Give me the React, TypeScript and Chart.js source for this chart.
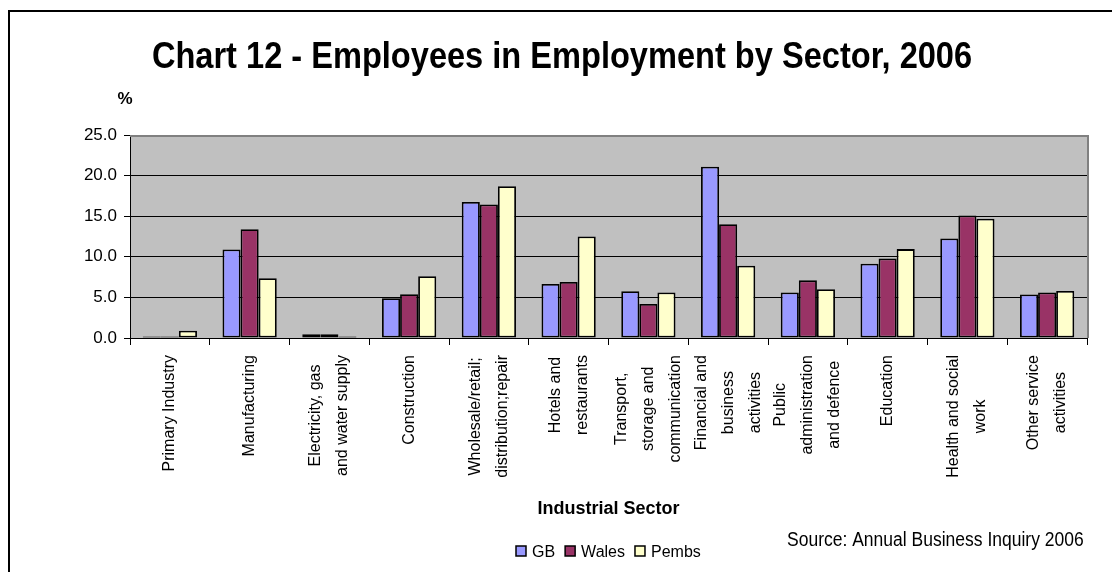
import React, { useEffect, useRef } from 'react';
import { Chart, registerables } from 'chart.js';

Chart.register(...registerables);

// ---------- data ----------
const categories: string[][] = [
  ['Primary Industry'],
  ['Manufacturing'],
  ['Electricity, gas', 'and water supply'],
  ['Construction'],
  ['Wholesale/retail;', 'distribution;repair'],
  ['Hotels and', 'restaurants'],
  ['Transport,', 'storage and', 'communication'],
  ['Financial and', 'business', 'activities'],
  ['Public', 'administration', 'and defence'],
  ['Education'],
  ['Health and social', 'work'],
  ['Other service', 'activities'],
];

const gbValues = [0.2, 10.9, 0.45, 4.9, 16.75, 6.65, 5.75, 21.1, 5.6, 9.15, 12.25, 5.35];
const walesValues = [0.2, 13.4, 0.45, 5.4, 16.45, 6.9, 4.2, 14.0, 7.1, 9.8, 15.1, 5.6];
const pembsValues = [0.9, 7.35, 0.2, 7.6, 18.7, 12.5, 5.6, 8.9, 6.0, 10.95, 14.7, 5.8];

const seriesNames = ['GB', 'Wales', 'Pembs'];
const seriesColors = ['#9999FF', '#993366', '#FFFFCC'];

const yMin = 0;
const yMax = 25;
const yStep = 5;

const chartTitle = 'Chart 12 - Employees in Employment by Sector, 2006';
const yUnit = '%';
const xAxisTitle = 'Industrial Sector';
const sourceNote = 'Source: Annual Business Inquiry 2006';

// ---------- styling ----------
const SANS = '"Liberation Sans", Arial, sans-serif';

// draw text squeezed horizontally to a condensed width (emulates a narrow face)
function drawCondensed(ctx: any, text: string, x: number, y: number, font: string, squeeze: number, align: 'left' | 'center') {
  ctx.save();
  ctx.font = font;
  ctx.textBaseline = 'alphabetic';
  ctx.textAlign = 'left';
  const w = ctx.measureText(text).width * squeeze;
  const startX = align === 'center' ? x - w / 2 : x;
  ctx.translate(startX, y);
  ctx.scale(squeeze, 1);
  ctx.fillText(text, 0, 0);
  ctx.restore();
}

const decorPlugin = {
  id: 'decor',
  beforeDraw(chart: any) {
    const { ctx, chartArea: a } = chart;
    ctx.save();
    ctx.fillStyle = '#FFFFFF';
    ctx.fillRect(0, 0, chart.width, chart.height);
    ctx.fillStyle = '#C0C0C0';
    ctx.fillRect(a.left, a.top, a.right - a.left, a.bottom - a.top);
    ctx.restore();
  },
  afterDatasetsDraw(chart: any) {
    const { ctx, chartArea: a } = chart;
    ctx.save();
    ctx.strokeStyle = '#808080';
    ctx.lineWidth = 2;
    ctx.beginPath();
    ctx.moveTo(a.left, a.top + 1);
    ctx.lineTo(a.right + 1, a.top + 1);
    ctx.moveTo(a.right + 1, a.top);
    ctx.lineTo(a.right + 1, a.bottom);
    ctx.stroke();
    ctx.restore();
  },
  afterDraw(chart: any) {
    const { ctx, chartArea: a } = chart;
    const xs = chart.scales.x;
    ctx.save();

    // outer frame (top and left edges)
    ctx.strokeStyle = '#000';
    ctx.lineWidth = 2;
    ctx.beginPath();
    ctx.moveTo(8, 11);
    ctx.lineTo(chart.width, 11);
    ctx.moveTo(9, 10);
    ctx.lineTo(9, chart.height);
    ctx.stroke();

    ctx.fillStyle = '#000';

    // title
    drawCondensed(ctx, chartTitle, 562, 68, `bold 36px ${SANS}`, 0.905, 'center');

    // unit
    ctx.font = `bold 17px ${SANS}`;
    ctx.textAlign = 'center';
    ctx.textBaseline = 'alphabetic';
    ctx.fillText(yUnit, 125, 104);

    // category labels
    ctx.font = `16px ${SANS}`;
    const labelTop = 355;
    const lineGap = 27;
    categories.forEach((lines, i) => {
      const cx = xs.getPixelForValue(i);
      const w = Math.max(...lines.map((l) => ctx.measureText(l).width));
      const cy = labelTop + w / 2;
      const n = lines.length;
      lines.forEach((line, j) => {
        const lx = cx + (j - (n - 1) / 2) * lineGap;
        ctx.save();
        ctx.translate(lx, cy);
        ctx.rotate(-Math.PI / 2);
        ctx.textAlign = 'center';
        ctx.textBaseline = 'middle';
        ctx.fillText(line, 0, 0);
        ctx.restore();
      });
    });

    // axis title
    ctx.font = `bold 18px ${SANS}`;
    ctx.textAlign = 'center';
    ctx.textBaseline = 'alphabetic';
    ctx.fillText(xAxisTitle, (a.left + a.right) / 2, 514);

    // source
    drawCondensed(ctx, sourceNote, 787, 546, `20px ${SANS}`, 0.875, 'left');

    // legend
    ctx.font = `16px ${SANS}`;
    let lx = 516;
    const ly = 551;
    chart.data.datasets.forEach((ds: any) => {
      ctx.fillStyle = ds.backgroundColor;
      ctx.fillRect(lx, ly - 5, 10, 10);
      ctx.strokeStyle = '#000';
      ctx.lineWidth = 1.5;
      ctx.strokeRect(lx, ly - 5, 10, 10);
      lx += 16;
      ctx.fillStyle = '#000';
      ctx.textAlign = 'left';
      ctx.textBaseline = 'alphabetic';
      ctx.fillText(ds.label, lx, ly + 6);
      lx += ctx.measureText(ds.label).width + 10;
    });

    ctx.restore();
  },
};

export default function App() {
  const canvasRef = useRef<HTMLCanvasElement | null>(null);

  useEffect(() => {
    document.body.style.margin = '0';
    const canvas = canvasRef.current;
    if (!canvas) return;
    const seriesData = [gbValues, walesValues, pembsValues];
    const chart = new Chart(canvas, {
      type: 'bar',
      data: {
        labels: categories.map((c) => c.join(' ')),
        datasets: seriesNames.map((name, i) => ({
          label: name,
          data: seriesData[i],
          backgroundColor: seriesColors[i],
          borderColor: '#000000',
          borderWidth: 1.8,
          borderSkipped: false,
          categoryPercentage: 0.68,
          barPercentage: 1.0,
        })),
      },
      options: {
        animation: false,
        responsive: false,
        maintainAspectRatio: false,
        devicePixelRatio: 1,
        layout: { padding: { top: 135, right: 25, left: 0, bottom: 0 } },
        plugins: {
          legend: { display: false },
          title: { display: false },
          tooltip: { enabled: false },
        },
        scales: {
          x: {
            offset: true,
            grid: {
              display: true,
              offset: true,
              drawOnChartArea: false,
              drawTicks: true,
              tickLength: 7,
              color: '#000',
              tickColor: '#000',
            },
            border: { display: true, color: '#000', width: 1 },
            ticks: { display: false },
            afterFit: (s: any) => {
              s.height = 234;
            },
          },
          y: {
            min: yMin,
            max: yMax,
            ticks: {
              stepSize: yStep,
              color: '#000',
              padding: 7,
              font: { family: SANS, size: 17 },
              callback: (v: any) => Number(v).toFixed(1),
            },
            grid: {
              color: (c: any) => (c.tick && c.tick.value === yMax ? 'rgba(0,0,0,0)' : '#000'),
              tickColor: '#000',
              tickLength: 6,
              lineWidth: 1,
            },
            border: { display: true, color: '#000', width: 1 },
            afterFit: (s: any) => {
              s.width = 130;
            },
          },
        },
      },
      plugins: [decorPlugin],
    });
    return () => chart.destroy();
  }, []);

  return (
    <div style={{ position: 'absolute', left: 0, top: 0, width: 1112, height: 572 }}>
      <canvas ref={canvasRef} width={1112} height={572} style={{ display: 'block' }} />
    </div>
  );
}
